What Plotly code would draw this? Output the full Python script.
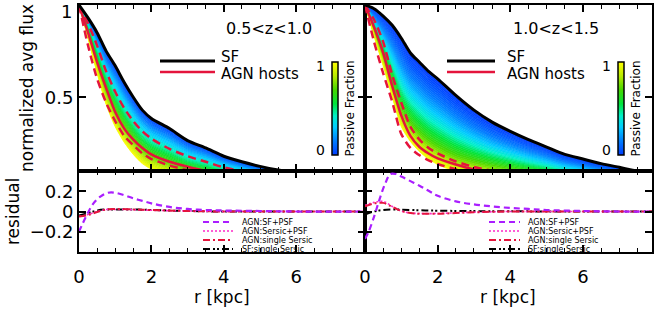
import numpy as np
import plotly.graph_objects as go

# ---------------- data ----------------
R = [0, 0.25, 0.5, 0.75, 1, 1.25, 1.5, 1.75, 2, 2.5, 3, 3.5, 4, 4.5, 5, 5.5, 6, 6.5, 7, 7.5, 8]

# panel 1 : 0.5<z<1.0
sf_1 = [1, 0.93, 0.85, 0.75, 0.67, 0.58, 0.5, 0.43, 0.385, 0.33, 0.265, 0.225, 0.18, 0.15, 0.125, 0.105, 0.09, 0.08, 0.07, 0.06, 0.05]
pas_1 = [1, 0.82, 0.63, 0.46, 0.34, 0.255, 0.19, 0.14, 0.11, 0.075, 0.05, 0.04, 0.03, 0.025, 0.02, 0.017, 0.015, 0.013, 0.012, 0.011, 0.01]
agn_1 = [1, 0.85, 0.69, 0.55, 0.42, 0.33, 0.27, 0.225, 0.19, 0.15, 0.123, 0.1, 0.085, 0.075, 0.065, 0.057, 0.05, 0.045, 0.04, 0.035, 0.03]
agn_hi_1 = [1, 0.9, 0.78, 0.64, 0.53, 0.44, 0.37, 0.315, 0.275, 0.22, 0.18, 0.15, 0.12, 0.1, 0.085, 0.072, 0.06, 0.053, 0.047, 0.043, 0.04]
agn_lo_1 = [1, 0.78, 0.6, 0.47, 0.37, 0.29, 0.24, 0.195, 0.165, 0.13, 0.105, 0.09, 0.075, 0.065, 0.055, 0.048, 0.04, 0.036, 0.033, 0.031, 0.03]

# panel 2 : 1.0<z<1.5
sf_2 = [1, 0.98, 0.94, 0.89, 0.82, 0.74, 0.69, 0.64, 0.6, 0.51, 0.43, 0.365, 0.315, 0.27, 0.23, 0.19, 0.165, 0.14, 0.12, 0.1, 0.09]
pas_2 = [1, 0.83, 0.67, 0.5, 0.34, 0.26, 0.205, 0.165, 0.135, 0.097, 0.08, 0.068, 0.058, 0.05, 0.045, 0.04, 0.036, 0.033, 0.03, 0.027, 0.025]
agn_2 = [1, 0.88, 0.74, 0.56, 0.4, 0.29, 0.23, 0.195, 0.168, 0.135, 0.108, 0.09, 0.078, 0.07, 0.062, 0.056, 0.05, 0.045, 0.041, 0.037, 0.035]
agn_hi_2 = [1, 0.92, 0.8, 0.62, 0.47, 0.34, 0.27, 0.225, 0.195, 0.152, 0.122, 0.102, 0.088, 0.078, 0.07, 0.063, 0.057, 0.052, 0.047, 0.043, 0.04]
agn_lo_2 = [1, 0.8, 0.63, 0.475, 0.3, 0.225, 0.185, 0.158, 0.138, 0.11, 0.092, 0.078, 0.068, 0.06, 0.053, 0.047, 0.042, 0.038, 0.034, 0.032, 0.03]

# residuals, panel 1
r_res1 = [0, 0.1, 0.25, 0.4, 0.6, 0.8, 1.0, 1.25, 1.5, 1.75, 2, 2.5, 3, 3.5, 4, 5, 6, 8]
res_sfpsf_1 = [-0.2, -0.12, -0.01, 0.08, 0.15, 0.185, 0.185, 0.16, 0.13, 0.105, 0.08, 0.045, 0.025, 0.015, 0.01, 0.005, 0.0, 0.0]
r_res1b = [0, 0.25, 0.5, 0.75, 1, 1.5, 2, 3, 4, 6, 8]
res_serpsf_1 = [-0.05, -0.03, 0.0, 0.02, 0.02, 0.018, 0.012, 0.005, 0.0, 0.0, 0.0]
res_single_1 = [-0.05, -0.035, -0.005, 0.02, 0.025, 0.02, 0.015, 0.005, 0.0, 0.0, 0.0]
res_sf_1 = [-0.04, -0.015, 0.01, 0.02, 0.02, 0.02, 0.015, 0.005, 0.0, 0.0, 0.0]

# residuals, panel 2
r_res2 = [0, 0.1, 0.25, 0.4, 0.55, 0.7, 0.85, 1.0, 1.25, 1.5, 1.75, 2, 2.5, 3, 3.5, 4, 4.5, 5, 6, 7, 8]
res_sfpsf_2 = [-0.27, -0.2, -0.05, 0.12, 0.27, 0.37, 0.37, 0.345, 0.3, 0.255, 0.205, 0.155, 0.1, 0.07, 0.05, 0.035, 0.025, 0.015, 0.005, 0.0, 0.0]
r_res2b = [0, 0.25, 0.5, 0.75, 1, 1.25, 1.5, 2, 2.5, 3, 3.5, 4, 6, 8]
res_serpsf_2 = [0.06, 0.09, 0.1, 0.05, 0.005, -0.015, -0.02, -0.02, -0.013, -0.007, -0.003, 0, 0, 0]
res_single_2 = [0.05, 0.08, 0.085, 0.045, 0.005, -0.015, -0.022, -0.022, -0.015, -0.008, -0.003, 0, 0, 0]
r_res2c = [0, 0.25, 0.5, 0.75, 1, 1.5, 2, 3, 4, 6, 8]
res_sf_2 = [-0.03, 0.0, 0.015, 0.02, 0.018, 0.012, 0.008, 0.004, 0.002, 0, 0]

xticks = [0, 2, 4, 6]
titles = ["0.5<z<1.0", "1.0<z<1.5"]
res_labels = ["AGN:SF+PSF", "AGN:Sersic+PSF", "AGN:single Sersic", "SF:single Sersic"]

# ---------------- styling ----------------
W, H = 664, 310
FONT = "DejaVu Sans"
stops = [(0.0, (0, 60, 255)), (0.15, (0, 125, 255)), (0.3, (0, 205, 255)), (0.42, (0, 240, 200)),
         (0.55, (0, 228, 60)), (0.7, (70, 215, 0)), (0.85, (185, 235, 0)), (1.0, (255, 255, 0))]
colorscale = [[s, "rgb(%d,%d,%d)" % c] for s, c in stops]


def cmap(f):
    for (s0, c0), (s1, c1) in zip(stops[:-1], stops[1:]):
        if f <= s1:
            t = (f - s0) / (s1 - s0)
            c = [round(a + t * (b - a)) for a, b in zip(c0, c1)]
            return "rgb(%d,%d,%d)" % tuple(c)
    return "rgb(255,255,0)"


def px_x(p):
    return p / W


def px_y(p):
    return 1 - p / H


RED = "rgb(228,20,60)"
PURPLE = "rgb(170,30,255)"
PINK = "rgb(255,40,200)"

fig = go.Figure()

panels = [
    dict(xa="x", ya="y", sf=sf_1, pas=pas_1, agn=agn_1, hi=agn_hi_1, lo=agn_lo_1, gam=1.0),
    dict(xa="x2", ya="y2", sf=sf_2, pas=pas_2, agn=agn_2, hi=agn_hi_2, lo=agn_lo_2, gam=1.4),
]

N = 40
for p in panels:
    sf = np.array(p["sf"], dtype=float)
    pas = np.array(p["pas"], dtype=float)
    for k in range(N + 1):
        t = k / N
        yk = sf + t * (pas - sf)
        if k == 0:
            fig.add_trace(go.Scatter(x=R, y=yk, mode="lines", line=dict(width=0, shape="spline", smoothing=0.7),
                                     xaxis=p["xa"], yaxis=p["ya"], hoverinfo="skip"))
        else:
            col = cmap(((k - 0.5) / N) ** p["gam"])
            fig.add_trace(go.Scatter(x=R, y=yk, mode="lines", fill="tonexty", fillcolor=col,
                                     line=dict(width=0.8, color=col, shape="spline", smoothing=0.7),
                                     xaxis=p["xa"], yaxis=p["ya"], hoverinfo="skip"))
    for key, dash in (("hi", "8px,5px"), ("lo", "8px,5px"), ("agn", "solid")):
        fig.add_trace(go.Scatter(x=R, y=p[key], mode="lines",
                                 line=dict(width=2.5, color=RED, dash=dash, shape="spline", smoothing=0.7),
                                 xaxis=p["xa"], yaxis=p["ya"]))
    fig.add_trace(go.Scatter(x=R, y=p["sf"], mode="lines",
                             line=dict(width=3, color="black", shape="spline", smoothing=0.7),
                             xaxis=p["xa"], yaxis=p["ya"]))

res_panels = [
    dict(xa="x3", ya="y3", r=r_res1, rb=r_res1b, rc=r_res1b, a=res_sfpsf_1, b=res_serpsf_1, c=res_single_1, d=res_sf_1),
    dict(xa="x4", ya="y4", r=r_res2, rb=r_res2b, rc=r_res2c, a=res_sfpsf_2, b=res_serpsf_2, c=res_single_2, d=res_sf_2),
]
DASH_A = "6px,4px"
DASH_B = "2px,2px"
DASH_C = "7px,3px,2px,3px"
DASH_D = "7px,3px,2px,2px,2px,3px"
for p in res_panels:
    fig.add_trace(go.Scatter(x=p["rc"], y=p["d"], mode="lines",
                             line=dict(width=2, color="black", dash=DASH_D, shape="spline"),
                             xaxis=p["xa"], yaxis=p["ya"]))
    fig.add_trace(go.Scatter(x=p["rb"], y=p["b"], mode="lines",
                             line=dict(width=1.6, color=PINK, dash=DASH_B, shape="spline"),
                             xaxis=p["xa"], yaxis=p["ya"]))
    fig.add_trace(go.Scatter(x=p["rb"], y=p["c"], mode="lines",
                             line=dict(width=2, color=RED, dash=DASH_C, shape="spline"),
                             xaxis=p["xa"], yaxis=p["ya"]))
    fig.add_trace(go.Scatter(x=p["r"], y=p["a"], mode="lines",
                             line=dict(width=2.2, color=PURPLE, dash=DASH_A, shape="spline"),
                             xaxis=p["xa"], yaxis=p["ya"]))

# colorbars (dummy invisible markers)
for xa, ya, cbx in (("x", "y", 332), ("x2", "y2", 618)):
    fig.add_trace(go.Scatter(
        x=[-5], y=[-5], mode="markers", xaxis=xa, yaxis=ya, hoverinfo="skip",
        marker=dict(color=[0.5], cmin=0, cmax=1, colorscale=colorscale, opacity=0, size=1, showscale=True,
                    colorbar=dict(thickness=6, thicknessmode="pixels", len=93 / H, lenmode="fraction",
                                  x=px_x(cbx), xanchor="left", y=px_y(108.5), yanchor="middle",
                                  xpad=0, ypad=0, outlinewidth=1.5, outlinecolor="black",
                                  ticks="", showticklabels=False,
                                  title=dict(text="Passive Fraction", side="right",
                                             font=dict(family=FONT, size=12, color="black"))))))

# ---------------- axes ----------------
xd1 = [79 / W, 365 / W]
xd2 = [365 / W, 652 / W]
yd_top = [px_y(171), px_y(5)]
yd_bot = [px_y(252), px_y(171)]

axx = dict(range=[0, 7.9], showline=True, linecolor="black", linewidth=2, mirror="allticks",
           ticks="inside", ticklen=7, tickwidth=1.5, tickcolor="black", tickvals=xticks,
           minor=dict(ticks="inside", ticklen=4, tickwidth=1, tickcolor="black", dtick=0.5),
           showgrid=False, zeroline=False, automargin=False,
           tickfont=dict(family=FONT, size=18, color="black"))
axy_top = dict(range=[0.1, 1.0], showline=True, linecolor="black", linewidth=2, mirror="allticks",
               ticks="inside", ticklen=7, tickwidth=1.5, tickcolor="black",
               tickvals=[0.5, 1.0], ticktext=["0.5", ""], automargin=False,
               showgrid=False, zeroline=False, tickfont=dict(family=FONT, size=18, color="black"))
axy_bot = dict(range=[-0.4, 0.4], showline=True, linecolor="black", linewidth=2, mirror="allticks",
               ticks="inside", ticklen=7, tickwidth=1.5, tickcolor="black",
               tickvals=[-0.2, 0, 0.2], ticktext=["\u22120.2", "0", "0.2"], automargin=False,
               showgrid=False, zeroline=False, tickfont=dict(family=FONT, size=18, color="black"))

fig.update_layout(
    width=W, height=H, margin=dict(l=0, r=0, t=0, b=0, autoexpand=False),
    paper_bgcolor="white", plot_bgcolor="white", showlegend=False,
    font=dict(family=FONT, color="black"),
    xaxis=dict(axx, domain=xd1, anchor="y", showticklabels=False),
    yaxis=dict(axy_top, domain=yd_top, anchor="x"),
    xaxis2=dict(axx, domain=xd2, anchor="y2", showticklabels=False),
    yaxis2=dict(axy_top, domain=yd_top, anchor="x2", showticklabels=False),
    xaxis3=dict(axx, domain=xd1, anchor="y3", ticklabelstandoff=7),
    yaxis3=dict(axy_bot, domain=yd_bot, anchor="x3"),
    xaxis4=dict(axx, domain=xd2, anchor="y4", ticklabelstandoff=7),
    yaxis4=dict(axy_bot, domain=yd_bot, anchor="x4", showticklabels=False),
)

# ---------------- decorations (legends, titles) ----------------
shapes = []
ann = []


def text(x, y, s, size, xanchor="left", angle=0):
    ann.append(dict(x=px_x(x), y=px_y(y), xref="paper", yref="paper", text=s, showarrow=False,
                    xanchor=xanchor, yanchor="middle", textangle=angle,
                    font=dict(family=FONT, size=size, color="black")))


def hline(x0, x1, y, color, width, dash="solid"):
    shapes.append(dict(type="line", xref="paper", yref="paper", x0=px_x(x0), x1=px_x(x1),
                       y0=px_y(y), y1=px_y(y), line=dict(color=color, width=width, dash=dash)))


for (lx0, lx1, tx, tcx, cbl) in ((160, 215, 219, 269, 327), (447, 495, 505, 556, 613)):
    hline(lx0, lx1, 61, "black", 3)
    hline(lx0, lx1, 72, RED, 2.5)
    text(tx, 57, "SF", 15)
    text(tx, 74, "AGN hosts", 15)
    text(tcx, 29, titles[lx0 > 300], 16, xanchor="center")
    text(cbl, 66, "1", 14, xanchor="right")
    text(cbl, 150, "0", 14, xanchor="right")

text(74, 12, "1", 18, xanchor="right")

for (lx0, lx1, tx) in ((203, 233, 240), (489, 520, 526)):
    rows = [(222, PURPLE, DASH_A, 2.2), (231, PINK, DASH_B, 1.6), (240, RED, DASH_C, 2), (249, "black", DASH_D, 2)]
    for (yy, col, dsh, wd), lab in zip(rows, res_labels):
        hline(lx0, lx1, yy, col, wd, dsh)
        text(tx, yy, lab, 8)

text(27, 88, "normalized avg flux", 17, xanchor="center", angle=-90)
text(13, 212, "residual", 17, xanchor="center", angle=-90)
text(222, 297, "r [kpc]", 17, xanchor="center")
text(508, 297, "r [kpc]", 17, xanchor="center")

fig.update_layout(shapes=shapes, annotations=ann)
fig.write_html("out.html", config={"displayModeBar": False},
               post_script="document.body.style.margin='0px';document.body.style.overflow='hidden';")
